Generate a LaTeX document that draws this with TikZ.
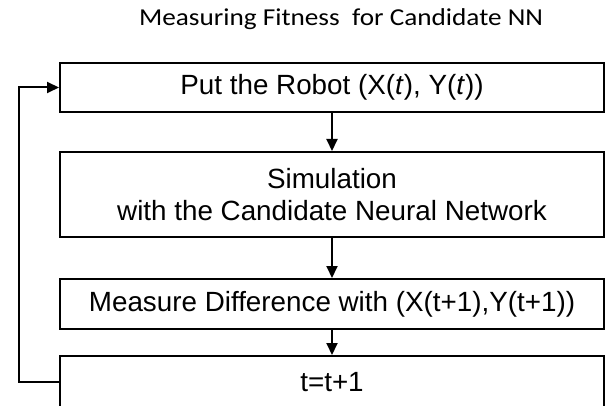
\documentclass[tikz,border=0pt]{standalone}
\usepackage{fontspec}
\setmainfont{Liberation Sans}
\newfontfamily\titlefont{Carlito}
\usetikzlibrary{arrows.meta}
\tikzset{
  flowbox/.style={draw=black, line width=2pt, minimum width=544pt, inner sep=0pt,
    font=\fontsize{27.8}{32}\selectfont, align=center},
  arr/.style={line width=2pt, -{Triangle[length=12pt,width=11pt]}},
  link/.style={line width=2pt}
}
\begin{document}
\begin{tikzpicture}[x=1pt,y=-1pt]
\useasboundingbox (0,0) rectangle (605,406);
\node[anchor=base, inner sep=0pt] (title) at (341,26)
  {\scalebox{1.12}[1]{\titlefont\fontsize{24.3}{28}\selectfont Measuring Fitness\ \ for Candidate NN}};
\node[flowbox, minimum height=49pt] (b1) at (332,87.5) {Put the Robot (X(\textit{t}), Y(\textit{t}))};
\node[flowbox, minimum height=85pt] (b2) at (332,194.5) {Simulation\\with the Candidate Neural Network};
\node[flowbox, minimum height=50pt] (b3) at (332,304) {Measure Difference with (X(t+1),Y(t+1))};
\node[flowbox, minimum height=52pt] (b4) at (332,382) {t=t+1};
\coordinate (lb) at (19,382);
\coordinate (lt) at (19,87.5);
\draw[arr] (b1.south) -- (b2.north);
\draw[arr] (b2.south) -- (b3.north);
\draw[arr] (b3.south) -- (b4.north);
\draw[arr] (b4.west) -- (lb) -- (lt) -- (b1.west);
\end{tikzpicture}
\end{document}
